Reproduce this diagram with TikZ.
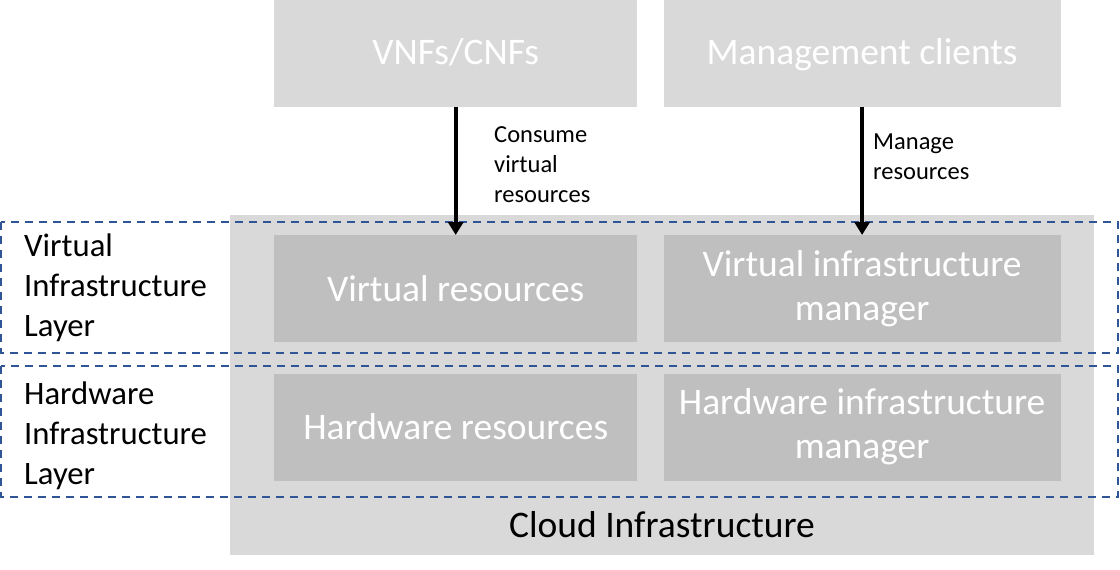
\documentclass[tikz,border=0pt]{standalone}
\usepackage{fontspec}
\setmainfont{Carlito}
\usetikzlibrary{arrows.meta,positioning}
\definecolor{boxgray}{HTML}{D9D9D9}
\definecolor{innergray}{HTML}{BFBFBF}
\definecolor{layerblue}{HTML}{2F5597}

\begin{document}
\begin{tikzpicture}[x=1pt, y=-1pt,
    node distance=31pt and 26pt,
    outer/.style={rectangle, fill=boxgray, inner sep=0pt, align=center,
                  text=white, font=\fontsize{37.5}{44}\selectfont},
    inner/.style={outer, fill=innergray},
    narrow/.style={minimum width=363pt, minimum height=107pt},
    wide/.style={minimum width=397pt, minimum height=107pt},
    layer/.style={draw=layerblue, dash pattern=on 8pt off 6pt, line width=2pt},
    lbl/.style={align=left, inner sep=0pt, font=\fontsize{24.5}{30}\selectfont},
    side/.style={align=left, inner sep=0pt, font=\fontsize{32.7}{40}\selectfont},
    arrow/.style={-{Triangle[length=13pt, width=15pt]}, line width=4pt}
  ]
    \useasboundingbox (0,0) rectangle (1120,570);
    % cloud infrastructure
    \node[outer, minimum width=864pt, minimum height=340pt, anchor=north west] (cloud) at (230,215) {};
    \node[font=\fontsize{37.5}{44}\selectfont] (cloudtxt) at (662,525) {Cloud Infrastructure};
    % top boxes
    \node[outer, narrow, anchor=north west, text depth=4pt] (vnf) at (274,0) {VNFs/CNFs};
    \node[outer, wide, right=of vnf, text depth=4pt] (mgmt) {Management clients};
    % resources and managers
    \node[inner, narrow, anchor=north west] (vres) at (274,235) {Virtual resources};
    \node[inner, wide, right=of vres] (vim) {Virtual infrastructure\\manager};
    \node[inner, narrow, below=of vres] (hres) {Hardware resources};
    \node[inner, wide, right=of hres] (him) {Hardware infrastructure\\manager};
    % layers
    \draw[layer] (1,222) rectangle (1118,353);
    \draw[layer] (1,366) rectangle (1118,497);
    \node[side, anchor=west] (vlayer) at (24,288) {Virtual\\Infrastructure\\Layer};
    \node[side, anchor=west] (hlayer) at (24,436) {Hardware\\Infrastructure\\Layer};
    % arrows
    \draw[arrow] (vnf) -- (vres);
    \draw[arrow] (mgmt) -- (vim);
    \node[lbl, anchor=west] (consume) at (494,165) {Consume\\virtual\\resources};
    \node[lbl, anchor=west] (manage) at (873,157) {Manage\\resources};
\end{tikzpicture}
\end{document}
